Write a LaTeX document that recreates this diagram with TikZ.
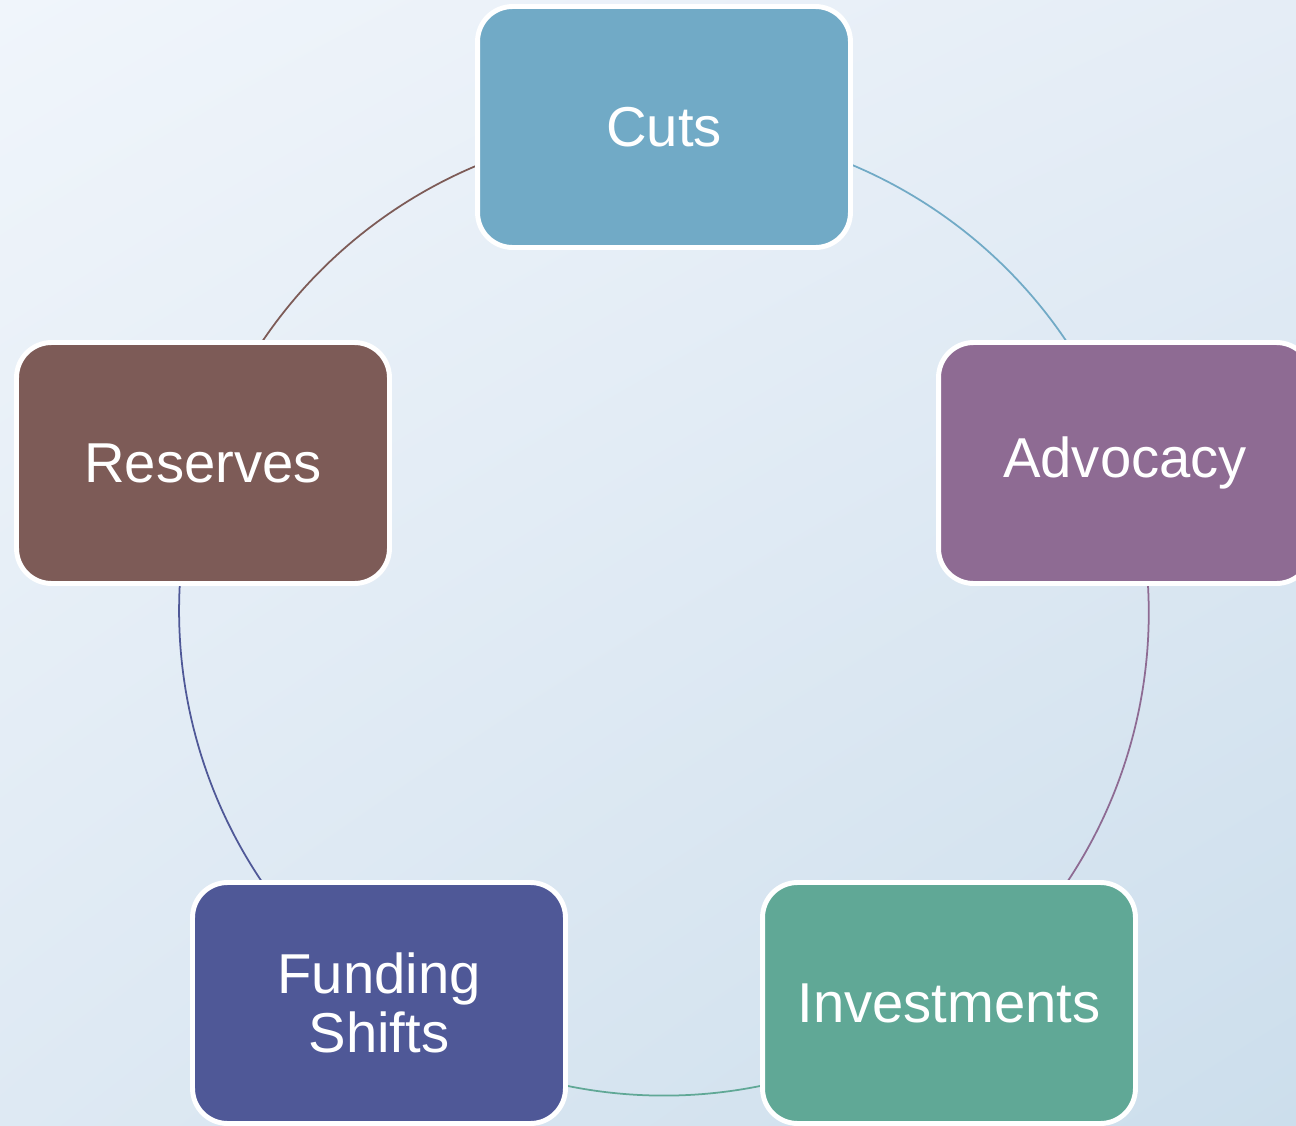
\documentclass[tikz,border=0pt]{standalone}
\usepackage{fontspec}
\setmainfont{Liberation Sans}
\usetikzlibrary{backgrounds,shadings}
\definecolor{cutsblue}{RGB}{113,170,198}
\definecolor{advpurple}{RGB}{142,107,147}
\definecolor{invgreen}{RGB}{96,168,150}
\definecolor{fundnavy}{RGB}{79,88,151}
\definecolor{resbrown}{RGB}{125,91,87}
\definecolor{bgtl}{RGB}{240,245,251}
\definecolor{bgtr}{RGB}{229,237,246}
\definecolor{bgbl}{RGB}{222,233,243}
\definecolor{bgbr}{RGB}{204,222,236}
\begin{document}
\begin{tikzpicture}[x=0.02cm,y=-0.02cm,
  stage/.style={draw=white,line width=2.8pt,rounded corners=0.7cm,
    minimum width=7.46cm,minimum height=4.82cm,inner sep=0pt,
    text=white,align=center,font=\fontsize{32}{33.5}\selectfont},
  ring/.style={line width=1pt}]
\useasboundingbox (0,0) rectangle (1296,1126);
\node[stage,fill=cutsblue] (cuts) at (664,127) {Cuts};
\node[stage,fill=advpurple] (advocacy) at (1125,463) {Advocacy};
\node[stage,fill=invgreen] (investments) at (949,1003) {Investments};
\node[stage,fill=fundnavy] (funding) at (379,1003) {Funding\\Shifts};
\node[stage,fill=resbrown] (reserves) at (203,463) {Reserves};
\begin{scope}[on background layer]
\shade[upper left=bgtl,upper right=bgtr,lower left=bgbl,lower right=bgbr]
  (0,0) rectangle (1296,1126);
\draw[ring,cutsblue] (cuts.center) arc[start angle=90,end angle=18,radius=9.7cm];
\draw[ring,advpurple] (advocacy.center) arc[start angle=18,end angle=-54,radius=9.7cm];
\draw[ring,invgreen] (investments.center) arc[start angle=-54,end angle=-126,radius=9.7cm];
\draw[ring,fundnavy] (funding.center) arc[start angle=-126,end angle=-198,radius=9.7cm];
\draw[ring,resbrown] (reserves.center) arc[start angle=162,end angle=90,radius=9.7cm];
\end{scope}
\end{tikzpicture}
\end{document}
